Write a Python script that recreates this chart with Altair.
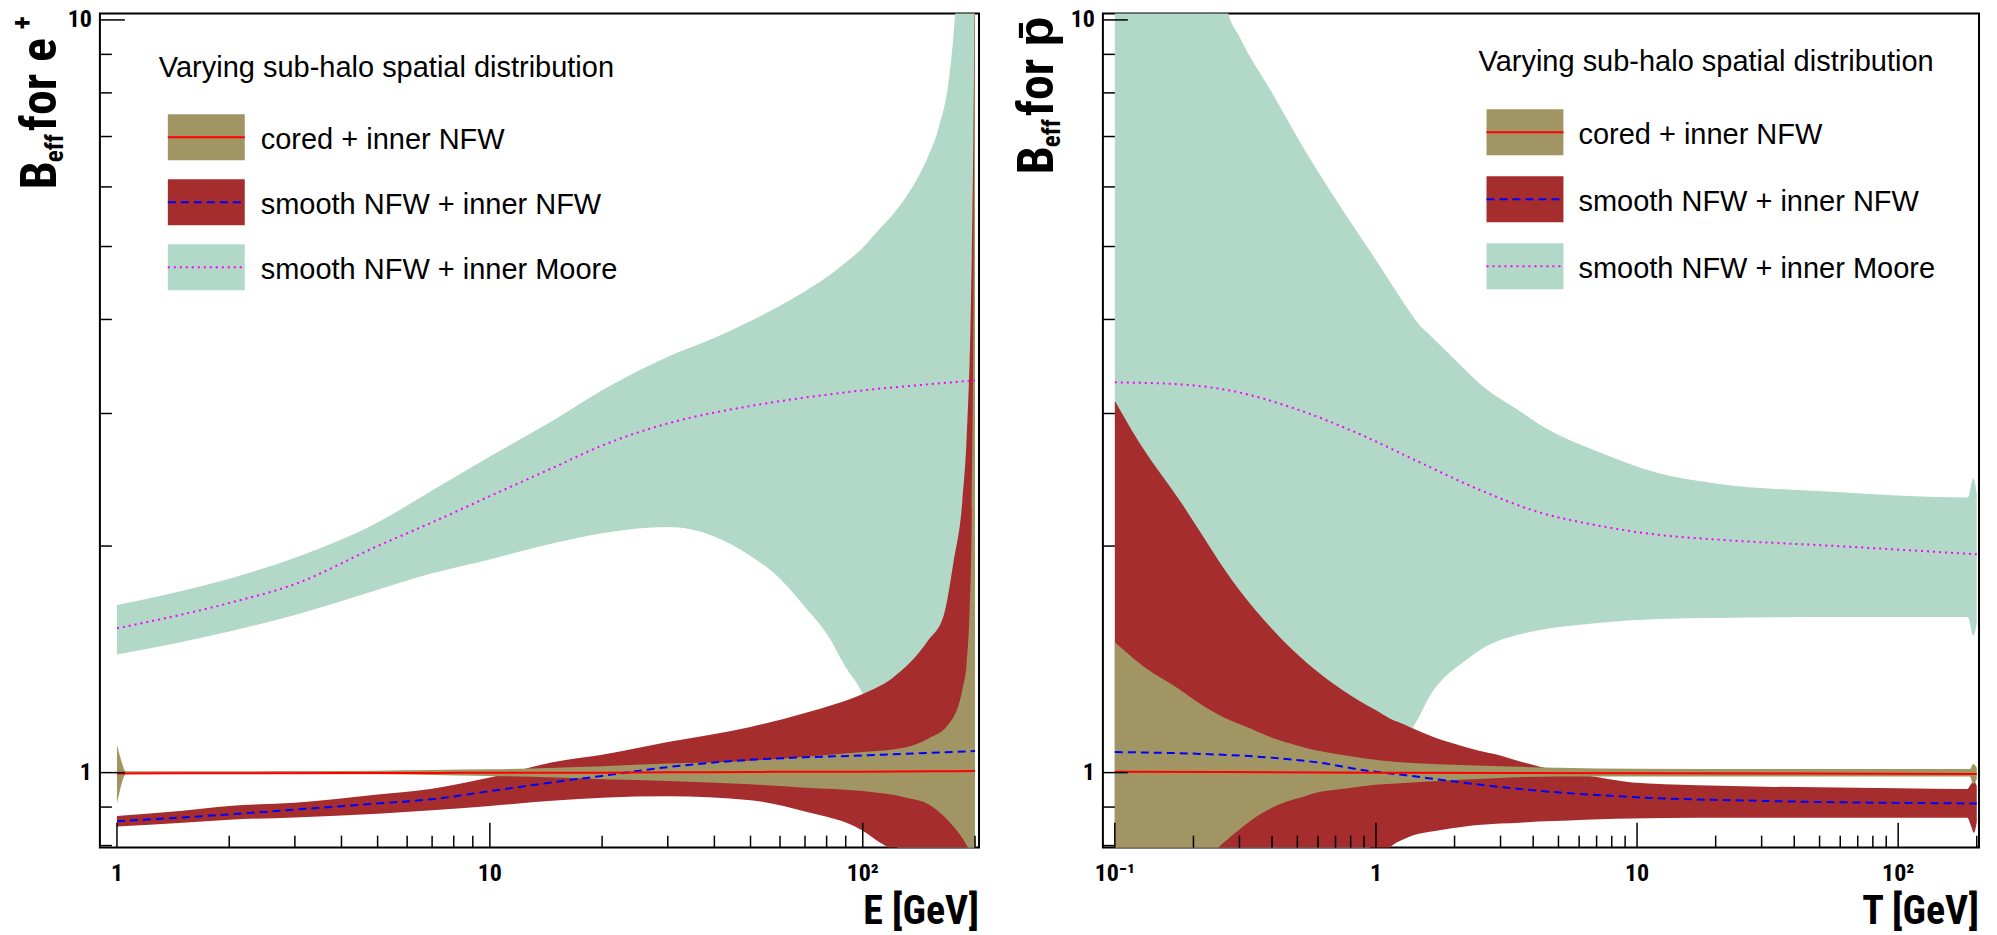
import altair as alt
import pandas as pd

# ---------------- Left panel: positrons, x = E [GeV] ----------------
E_CORED = [1.0, 1.02, 1.057, 1.2, 1.5, 2, 3, 5, 7, 10, 15, 20, 30, 50, 70, 100, 130, 150, 170, 185, 190, 193, 196, 198, 200]
E_CORED_LO = [0.91, 0.95, 0.996, 0.996, 0.997, 0.997, 0.996, 0.995, 0.993, 0.99, 0.985, 0.98, 0.975, 0.965, 0.955, 0.945, 0.927, 0.908, 0.862, 0.818, 0.80, 0.79, 0.78, 0.78, 0.79]
E_CORED_HI = [1.09, 1.05, 1.004, 1.004, 1.004, 1.004, 1.005, 1.006, 1.008, 1.01, 1.015, 1.02, 1.028, 1.037, 1.05, 1.065, 1.08, 1.11, 1.16, 1.29, 1.4, 1.6, 2.2, 4.0, 15]
E_SMOOTH = [1, 1.5, 2, 3, 5, 7, 10, 15, 20, 30, 50, 70, 100, 110, 120, 150, 165, 175, 185, 190, 195, 198, 200]
E_SMOOTH_LO = [0.848, 0.858, 0.866, 0.872, 0.882, 0.891, 0.903, 0.918, 0.926, 0.93, 0.919, 0.888, 0.837, 0.81, 0.79, 0.75, 0.73, 0.72, 0.7, 0.7, 0.7, 0.7, 0.7]
E_SMOOTH_HI = [0.876, 0.89, 0.903, 0.912, 0.935, 0.952, 0.985, 1.034, 1.056, 1.098, 1.15, 1.2, 1.272, 1.3, 1.335, 1.5, 1.62, 1.9, 2.3, 2.8, 4.2, 7.0, 12]
E_MOORE = [1, 2, 3, 5, 7, 10, 15, 20, 30, 40, 50, 60, 70, 80, 90, 100, 110, 120, 130, 140, 150, 160, 170, 175, 180, 200]
E_MOORE_LO = [1.435, 1.54, 1.62, 1.75, 1.84, 1.92, 2.02, 2.08, 2.12, 2.06, 1.94, 1.81, 1.66, 1.53, 1.38, 1.27, 1.1, 0.87, 0.7, 0.6, 0.6, 0.6, 0.6, 0.6, 0.6, 0.6]
E_MOORE_HI = [1.67, 1.81, 1.93, 2.15, 2.37, 2.63, 2.95, 3.22, 3.57, 3.78, 3.98, 4.17, 4.36, 4.55, 4.76, 4.98, 5.25, 5.5, 5.8, 6.15, 6.6, 7.2, 8.3, 9.5, 11.5, 16]
E_LINE = [1, 2, 3, 5, 7, 10, 15, 20, 30, 50, 70, 100, 150, 200]
E_CORED_MID = [0.997, 0.998, 0.998, 0.999, 0.999, 1.0, 1.0, 1.0, 1.001, 1.002, 1.003, 1.003, 1.004, 1.005]
E_SMOOTH_MID = [0.862, 0.88, 0.893, 0.91, 0.922, 0.945, 0.972, 0.99, 1.017, 1.04, 1.048, 1.054, 1.062, 1.068]
E_MOORE_MID = [1.555, 1.68, 1.78, 2.0, 2.15, 2.33, 2.55, 2.72, 2.91, 3.07, 3.15, 3.22, 3.28, 3.32]

# ---------------- Right panel: antiprotons, x = T [GeV] ----------------
T_CORED = [0.1, 0.13, 0.177, 0.212, 0.249, 0.3, 0.329, 0.381, 0.442, 0.507, 0.594, 0.686, 0.859, 0.922, 1.24, 1.66, 2.0, 3.0, 3.56, 5, 10, 30, 100, 188, 194, 200]
T_CORED_HI = [1.49, 1.38, 1.29, 1.235, 1.195, 1.16, 1.145, 1.12, 1.10, 1.085, 1.07, 1.06, 1.047, 1.043, 1.032, 1.027, 1.024, 1.02, 1.018, 1.015, 1.012, 1.011, 1.011, 1.011, 1.027, 1.015]
T_CORED_LO = [0.7, 0.7, 0.72, 0.75, 0.795, 0.84, 0.862, 0.89, 0.912, 0.925, 0.941, 0.948, 0.958, 0.961, 0.968, 0.974, 0.978, 0.984, 0.986, 0.988, 0.988, 0.988, 0.988, 0.988, 0.966, 0.98]
T_SMOOTH = [0.1, 0.122, 0.177, 0.299, 0.507, 0.859, 1.0, 1.13, 1.31, 1.38, 1.66, 2.23, 2.46, 2.99, 3.56, 4.17, 5.5, 7.2, 9.6, 17, 31, 100, 184, 190, 195, 200]
T_SMOOTH_HI = [3.12, 2.77, 2.30, 1.75, 1.43, 1.247, 1.21, 1.18, 1.155, 1.145, 1.115, 1.08, 1.07, 1.054, 1.035, 1.02, 1.0, 0.985, 0.97, 0.962, 0.958, 0.953, 0.951, 0.965, 0.975, 0.96]
T_SMOOTH_LO = [0.6, 0.6, 0.6, 0.6, 0.65, 0.72, 0.75, 0.795, 0.819, 0.825, 0.836, 0.849, 0.852, 0.856, 0.858, 0.861, 0.864, 0.867, 0.869, 0.871, 0.871, 0.871, 0.871, 0.85, 0.832, 0.86]
T_MOORE = [0.1, 0.2, 0.25, 0.27, 0.3, 0.4, 0.507, 0.859, 0.96, 1.1, 1.2, 1.39, 1.45, 1.6, 2.23, 2.46, 3.56, 4.17, 7.06, 12, 20.3, 58, 185, 194, 200]
T_MOORE_HI = [15, 15, 12, 10.3, 9.5, 8.0, 6.92, 5.19, 4.90, 4.56, 4.35, 4.03, 3.95, 3.82, 3.41, 3.30, 3.02, 2.91, 2.67, 2.50, 2.42, 2.36, 2.32, 2.46, 2.35]
T_MOORE_LO = [0.5, 0.55, 0.6, 0.62, 0.65, 0.7, 0.72, 0.76, 0.8, 0.93, 1.0, 1.15, 1.18, 1.26, 1.414, 1.45, 1.527, 1.545, 1.58, 1.60, 1.605, 1.61, 1.61, 1.52, 1.58]
T_CORED_LINE = [0.1, 1, 10, 200]
T_CORED_MID = [1.003, 1.0, 0.998, 0.996]
T_SMOOTH_LINE = [0.1, 0.212, 0.381, 0.594, 0.922, 1.24, 2.0, 3.56, 9.6, 31, 200]
T_SMOOTH_MID = [1.065, 1.059, 1.048, 1.032, 1.006, 0.994, 0.973, 0.951, 0.928, 0.917, 0.91]
T_MOORE_LINE = [0.1, 0.177, 0.299, 0.456, 0.859, 1.45, 2.46, 4.17, 7.06, 12, 20.3, 58, 200]
T_MOORE_MID = [3.30, 3.28, 3.20, 3.07, 2.82, 2.59, 2.38, 2.22, 2.13, 2.07, 2.04, 2.0, 1.95]

# ---------------- axes / text ----------------
LEGEND_TITLE = "Varying sub-halo spatial distribution"
LEGEND_LABELS = ["cored + inner NFW", "smooth NFW + inner NFW", "smooth NFW + inner Moore"]
E_MAJOR = [1, 10, 100]
E_LABELS = ["1", "10", "10\u00b2"]
E_MINOR = [2, 3, 4, 5, 6, 7, 8, 9, 20, 30, 40, 50, 60, 70, 80, 90, 200]
T_MAJOR = [0.1, 1, 10, 100]
T_LABELS = ["10\u207b\u00b9", "1", "10", "10\u00b2"]
T_MINOR = [0.2, 0.3, 0.4, 0.5, 0.6, 0.7, 0.8, 0.9, 2, 3, 4, 5, 6, 7, 8, 9, 20, 30, 40, 50, 60, 70, 80, 90, 200]
Y_MAJOR = [1, 10]
Y_LABELS = ["1", "10"]
Y_MINOR = [0.8, 0.9, 2, 3, 4, 5, 6, 7, 8, 9]

FONT = "Liberation Sans, Arial, Helvetica, sans-serif"
NARROW = "Roboto Condensed, Liberation Sans"
OLIVE, RED, TEAL = "#A19564", "#A52D2D", "#B2D8C7"
H = 835
W_L, W_R = 880, 877
YSCALE = alt.Scale(type="log", domain=[0.795, 10.2], nice=False)
ONE = pd.DataFrame({"k": [0]})


def band(xs, lo, hi, color, xscale):
    df = pd.DataFrame({"x": xs, "lo": lo, "hi": hi})
    return alt.Chart(df).mark_area(color=color, clip=True, opacity=1, interpolate="monotone").encode(
        x=alt.X("x:Q", scale=xscale, axis=None),
        y=alt.Y("lo:Q", scale=YSCALE, axis=None),
        y2="hi:Q",
    )


def line(xs, ys, color, xscale, dash=None):
    df = pd.DataFrame({"x": xs, "y": ys})
    kw = dict(color=color, strokeWidth=2, clip=True, interpolate="monotone")
    if dash:
        kw["strokeDash"] = dash
    return alt.Chart(df).mark_line(**kw).encode(
        x=alt.X("x:Q", scale=xscale, axis=None),
        y=alt.Y("y:Q", scale=YSCALE, axis=None),
    )


def xticks(vals, length, xscale):
    df = pd.DataFrame({"v": vals})
    return alt.Chart(df).mark_rule(color="black", strokeWidth=1.5).encode(
        x=alt.X("v:Q", scale=xscale, axis=None), y=alt.value(H), y2=alt.value(H - length))


def yticks(vals, length):
    df = pd.DataFrame({"v": vals})
    return alt.Chart(df).mark_rule(color="black", strokeWidth=1.5).encode(
        y=alt.Y("v:Q", scale=YSCALE, axis=None), x=alt.value(0), x2=alt.value(length))


def xlabels(vals, labels, xscale):
    df = pd.DataFrame({"v": vals, "t": labels})
    return alt.Chart(df).mark_text(font=NARROW, fontWeight="bold", fontSize=24, color="black",
                                   baseline="top", align="center").encode(
        x=alt.X("v:Q", scale=xscale, axis=None), y=alt.value(H + 14), text="t:N")


def ylabels():
    df = pd.DataFrame({"v": Y_MAJOR, "t": Y_LABELS})
    return alt.Chart(df).mark_text(font=NARROW, fontWeight="bold", fontSize=24, color="black",
                                   baseline="middle", align="right").encode(
        y=alt.Y("v:Q", scale=YSCALE, axis=None), x=alt.value(-8), text="t:N")


def text(t, x, y, size, bold=False, align="left", angle=0, font=FONT):
    kw = dict(text=t, font=font, fontSize=size, color="black", align=align,
              baseline="alphabetic", fontWeight="bold" if bold else "normal")
    if angle:
        kw["angle"] = angle
    return alt.Chart(ONE).mark_text(**kw).encode(x=alt.value(x), y=alt.value(y))


def rect(x, x2, y, y2, color, opacity=1.0):
    return alt.Chart(ONE).mark_rect(color=color, opacity=opacity).encode(
        x=alt.value(x), x2=alt.value(x2), y=alt.value(y), y2=alt.value(y2))


def hrule(x, x2, y, color, dash=None):
    kw = dict(color=color, strokeWidth=2)
    if dash:
        kw["strokeDash"] = dash
    return alt.Chart(ONE).mark_rule(**kw).encode(x=alt.value(x), x2=alt.value(x2), y=alt.value(y))


def legend(tx, ty, bx0, bx1, box_tops, lx):
    layers = [text(LEGEND_TITLE, tx, ty, 29)]
    cols = [OLIVE, RED, TEAL]
    lines_ = [("#FF0000", None), ("#0000FF", [8, 5]), ("#FF00FF", [2, 4])]
    for top, col, (lc, ld), lab in zip(box_tops, cols, lines_, LEGEND_LABELS):
        layers.append(rect(bx0, bx1, top, top + 46, col))
        layers.append(hrule(bx0, bx1, top + 23, lc, ld))
        layers.append(text(lab, lx, top + 35, 29))
    return layers


def ytitle(start, base, tail):
    # rotated "B_eff for ..." built from main / subscript pieces
    return [
        text("B", base, start, 50, bold=True, angle=270, font=NARROW),
        text("eff", base + 7, start - 27, 25, bold=True, angle=270, font=NARROW),
        text(tail, base, start - 58, 50, bold=True, angle=270, font=NARROW),
    ]


# ---------- left panel ----------
xs_L = alt.Scale(type="log", domain=[0.9, 205], nice=False)
left_layers = [
    rect(-99, 0, -12, 923, "white", 0.0),
    band(E_MOORE, E_MOORE_LO, E_MOORE_HI, TEAL, xs_L),
    band(E_SMOOTH, E_SMOOTH_LO, E_SMOOTH_HI, RED, xs_L),
    band(E_CORED, E_CORED_LO, E_CORED_HI, OLIVE, xs_L),
    line(E_LINE, E_MOORE_MID, "#FF00FF", xs_L, [2, 4]),
    line(E_LINE, E_SMOOTH_MID, "#0000FF", xs_L, [8, 5]),
    line(E_LINE, E_CORED_MID, "#FF0000", xs_L),
    xticks(E_MAJOR, 25, xs_L),
    xticks(E_MINOR, 12, xs_L),
    yticks(Y_MAJOR, 25),
    yticks(Y_MINOR, 12),
    xlabels(E_MAJOR, E_LABELS, xs_L),
    ylabels(),
    text("E [GeV]", W_L, 911, 40, bold=True, align="right", font=NARROW),
] + ytitle(176, -44, " for e") + [
    text("+", -68, 16, 28, bold=True, angle=270, font=NARROW),
] + legend(59, 64, 68, 145, [101, 166, 231], 161)
left = alt.layer(*left_layers).properties(width=W_L, height=H)

# ---------- right panel ----------
xs_R = alt.Scale(type="log", domain=[0.09, 204], nice=False)
right_layers = [
    rect(W_R, W_R + 17, -12, 923, "white", 0.0),
    band(T_MOORE, T_MOORE_LO, T_MOORE_HI, TEAL, xs_R),
    band(T_SMOOTH, T_SMOOTH_LO, T_SMOOTH_HI, RED, xs_R),
    band(T_CORED, T_CORED_LO, T_CORED_HI, OLIVE, xs_R),
    line(T_MOORE_LINE, T_MOORE_MID, "#FF00FF", xs_R, [2, 4]),
    line(T_SMOOTH_LINE, T_SMOOTH_MID, "#0000FF", xs_R, [8, 5]),
    line(T_CORED_LINE, T_CORED_MID, "#FF0000", xs_R),
    xticks(T_MAJOR, 25, xs_R),
    xticks(T_MINOR, 12, xs_R),
    yticks(Y_MAJOR, 25),
    yticks(Y_MINOR, 12),
    xlabels(T_MAJOR, T_LABELS, xs_R),
    ylabels(),
    text("T [GeV]", W_R, 911, 40, bold=True, align="right", font=NARROW),
] + ytitle(161, -50, " for p\u0304") + legend(376, 58, 384, 461, [96, 163, 230], 476)
right = alt.layer(*right_layers).properties(width=W_R, height=H)

chart = alt.hconcat(left, right, spacing=124, bounds="flush").configure_view(
    stroke="black", strokeWidth=2).properties(padding=0, background="white")

chart.save("out.html", embed_options={"renderer": "svg", "actions": False})
